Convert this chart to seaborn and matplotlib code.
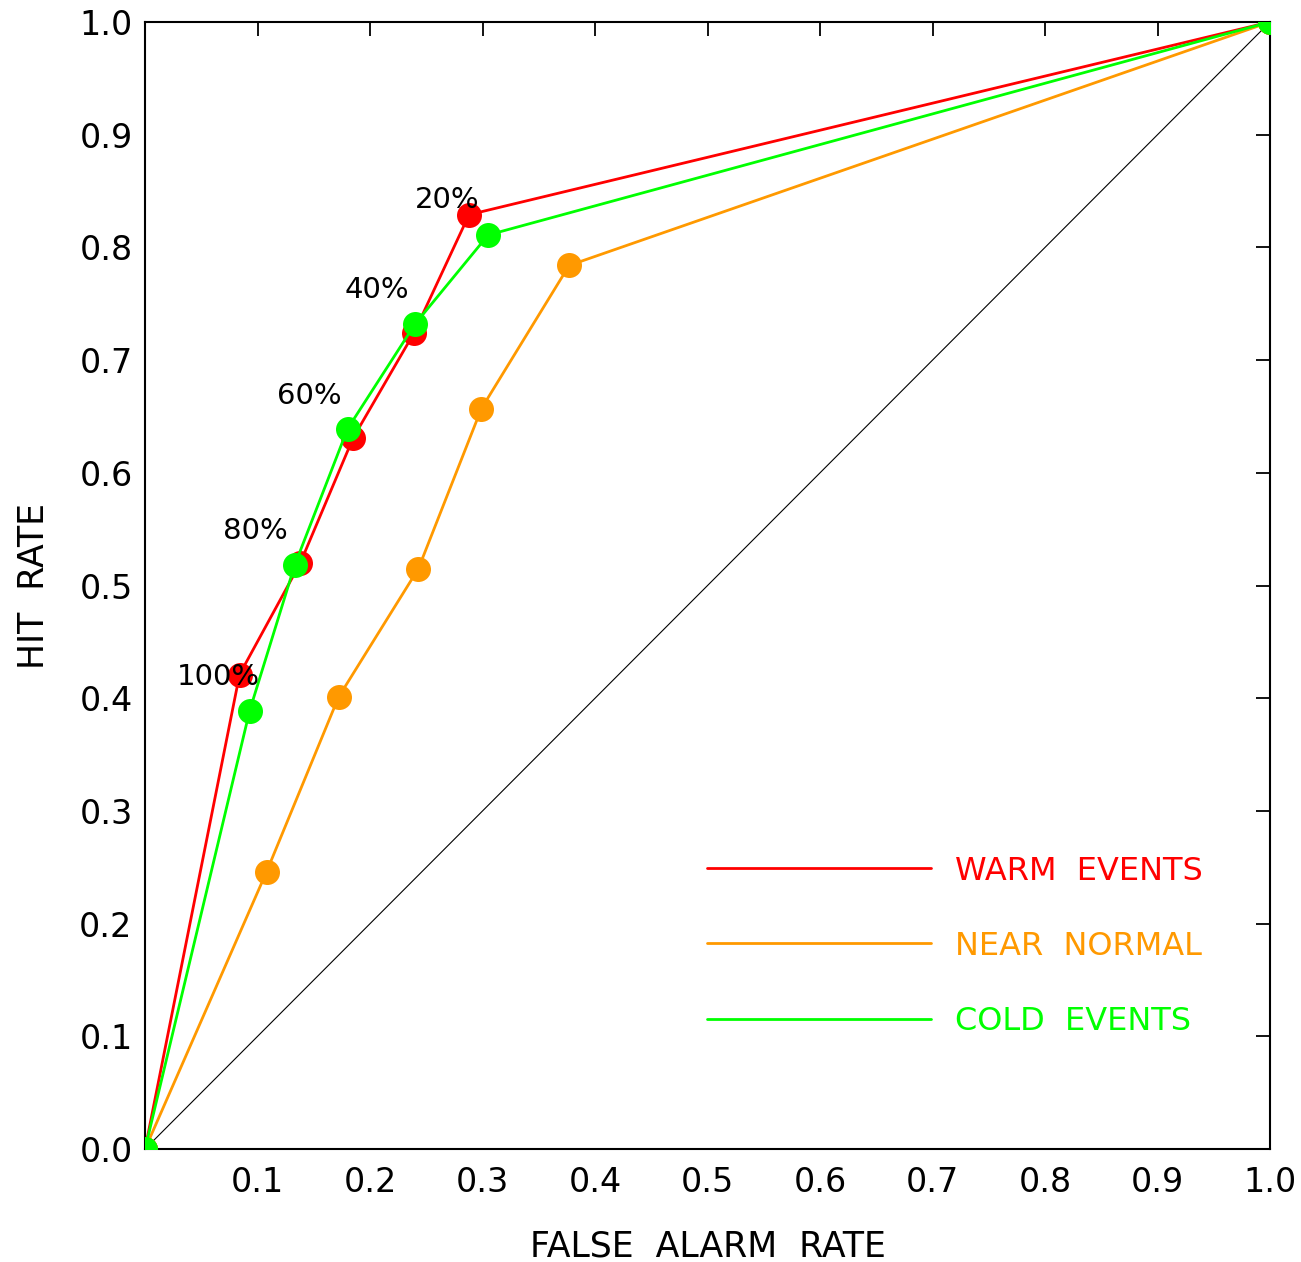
import matplotlib
matplotlib.use("Agg")
import matplotlib.pyplot as plt
import seaborn as sns
import pandas as pd
from matplotlib.lines import Line2D

# ---- data ----
warm_far = [0.0, 0.084, 0.138, 0.185, 0.239, 0.288, 1.0]
warm_hr = [0.0, 0.421, 0.520, 0.631, 0.724, 0.829, 1.0]
normal_far = [0.0, 0.108, 0.172, 0.243, 0.299, 0.377, 1.0]
normal_hr = [0.0, 0.246, 0.401, 0.515, 0.657, 0.784, 1.0]
cold_far = [0.0, 0.093, 0.133, 0.180, 0.240, 0.305, 1.0]
cold_hr = [0.0, 0.389, 0.518, 0.639, 0.732, 0.811, 1.0]

series_names = ["WARM  EVENTS", "NEAR  NORMAL", "COLD  EVENTS"]
series_colors = ["#FF0000", "#FF9900", "#00FF00"]

pct_labels = ["20%", "40%", "60%", "80%", "100%"]
pct_x = [0.269, 0.206, 0.146, 0.098, 0.065]
pct_y = [0.842, 0.762, 0.668, 0.548, 0.419]

xticks = [0.1, 0.2, 0.3, 0.4, 0.5, 0.6, 0.7, 0.8, 0.9, 1.0]
yticks = [0.0, 0.1, 0.2, 0.3, 0.4, 0.5, 0.6, 0.7, 0.8, 0.9, 1.0]

sns.set_style("white")
plt.rcParams['font.family'] = ['DejaVu Sans']
plt.rcParams['text.color'] = 'black'
plt.rcParams['axes.labelcolor'] = 'black'

fig = plt.figure(figsize=(13.01, 12.62), dpi=100)
ax = fig.add_axes([0.1115, 0.0895, 0.8647, 0.8931])

# diagonal
ax.plot([0, 1], [0, 1], color="black", lw=0.8, zorder=1)

data = [(warm_far, warm_hr), (normal_far, normal_hr), (cold_far, cold_hr)]
for (fx, hy), name, col in zip(data, series_names, series_colors):
    df = pd.DataFrame({"far": fx, "hr": hy})
    sns.lineplot(data=df, x="far", y="hr", sort=False, ax=ax, color=col,
                 lw=2.0, marker="o", markersize=18, markeredgewidth=0,
                 zorder=3)

for t, x, y in zip(pct_labels, pct_x, pct_y):
    ax.text(x, y, t, ha="center", va="center", fontsize=21, color="black", zorder=5)

ax.set_xlim(0, 1)
ax.set_ylim(0, 1)
ax.set_xticks(xticks)
ax.set_yticks(yticks)
ax.set_xticklabels([f"{v:.1f}" for v in xticks])
ax.set_yticklabels([f"{v:.1f}" for v in yticks])
ax.tick_params(direction="in", length=10, width=1.3, top=True, right=True,
               labelsize=24, colors="black")
ax.tick_params(axis="x", pad=12)
ax.tick_params(axis="y", pad=9)
for s in ax.spines.values():
    s.set_visible(True)
    s.set_color("black")
    s.set_linewidth(1.5)

ax.set_xlabel("FALSE  ALARM  RATE", fontsize=25, labelpad=22, color="black")
ax.set_ylabel("HIT  RATE", fontsize=25, labelpad=20, color="black")

handles = [Line2D([], [], color=c, lw=2.0) for c in series_colors]
leg = ax.legend(handles, series_names, loc="center left",
                bbox_to_anchor=(0.4996, 0.180), frameon=False,
                fontsize=23, handlelength=7.0, handletextpad=0.75,
                labelspacing=1.38, borderpad=0, borderaxespad=0,
                labelcolor=series_colors)

fig.savefig("out.png", dpi=100, facecolor="white")
